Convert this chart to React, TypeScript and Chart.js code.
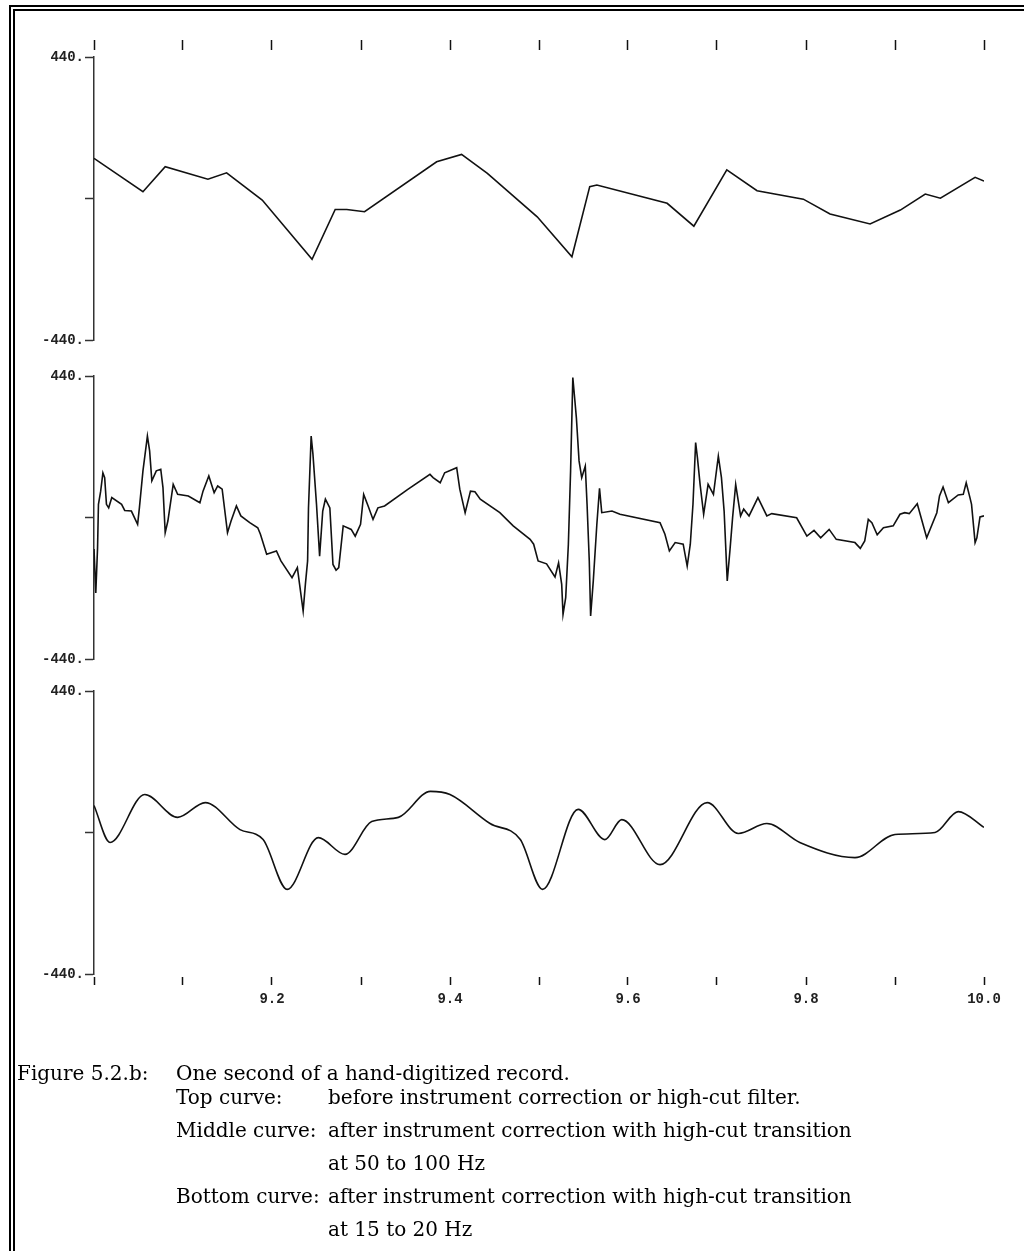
import React, { useEffect, useRef } from 'react';
import { Chart, registerables } from 'chart.js';

Chart.register(...registerables);

// ---------------- data ----------------
const X_TICKS = [9.0, 9.1, 9.2, 9.3, 9.4, 9.5, 9.6, 9.7, 9.8, 9.9, 10.0];
const X_TICK_LABELS = ['', '', '9.2', '', '9.4', '', '9.6', '', '9.8', '', '10.0'];
const Y_TICKS = [-440, 0, 440];
const Y_TICK_LABELS = ['-440.', '', '440.'];

// Top curve: before instrument correction / high-cut filter
const TOP_T = [9.0, 9.055, 9.08, 9.128, 9.149, 9.189, 9.245, 9.271, 9.284, 9.304, 9.385, 9.413, 9.442, 9.498, 9.537, 9.557, 9.565, 9.644, 9.674, 9.711, 9.745, 9.797, 9.827, 9.872, 9.906, 9.934, 9.951, 9.99, 10.0];
const TOP_V = [125, 21, 99, 60, 80, -5, -189, -34, -34, -41, 114, 137, 78, -57, -181, 37, 42, -15, -86, 89, 24, -2, -48, -79, -36, 14, 1, 66, 54];

// Middle curve: high-cut transition at 50 to 100 Hz
const MID_T = [
  9.0, 9.002, 9.004, 9.005, 9.0075, 9.01, 9.012, 9.014, 9.0165, 9.02, 9.031, 9.0345, 9.042, 9.049, 9.051,
  9.055, 9.06, 9.0625, 9.065, 9.07, 9.075, 9.0775, 9.08, 9.083, 9.089, 9.094, 9.106, 9.119, 9.1225, 9.129,
  9.135, 9.139, 9.144, 9.15, 9.154, 9.16, 9.165, 9.175, 9.184, 9.187, 9.194, 9.205, 9.21, 9.2225, 9.2285,
  9.231, 9.235, 9.2375, 9.24, 9.241, 9.244, 9.246, 9.25, 9.2535, 9.257, 9.26, 9.265, 9.2685, 9.272, 9.275,
  9.28, 9.289, 9.2935, 9.2995, 9.303, 9.308, 9.3135, 9.319, 9.3265, 9.353, 9.3775, 9.381, 9.389, 9.394,
  9.4075, 9.411, 9.417, 9.423, 9.428, 9.434, 9.456, 9.471, 9.49, 9.494, 9.499, 9.5085, 9.518, 9.522,
  9.5255, 9.527, 9.53, 9.533, 9.5355, 9.538, 9.54, 9.542, 9.545, 9.548, 9.552, 9.554, 9.5565, 9.558,
  9.561, 9.565, 9.568, 9.5705, 9.582, 9.591, 9.636, 9.6415, 9.6465, 9.653, 9.662, 9.6665, 9.67, 9.673,
  9.676, 9.678, 9.681, 9.685, 9.69, 9.696, 9.7015, 9.705, 9.708, 9.7115, 9.7145, 9.7175, 9.721, 9.7265,
  9.73, 9.736, 9.746, 9.756, 9.7615, 9.7895, 9.801, 9.809, 9.8165, 9.826, 9.834, 9.855, 9.861, 9.866,
  9.87, 9.874, 9.88, 9.887, 9.898, 9.9056, 9.911, 9.916, 9.925, 9.9356, 9.947, 9.95, 9.954, 9.96, 9.971,
  9.9767, 9.98, 9.984, 9.986, 9.99, 9.992, 9.9955, 10.0,
];
const MID_V = [
  -98, -235, -94, 41, 82, 139, 124, 41, 30, 62, 41, 22, 20, -21, 30,
  145, 253, 207, 114, 145, 150, 93, -47, -11, 103, 72, 67, 46, 82, 129,
  77, 98, 88, -47, -11, 36, 5, -16, -32, -52, -114, -104, -135, -187, -156,
  -208, -291, -208, -135, 30, 253, 197, 41, -120, 20, 57, 30, -146, -164, -156,
  -26, -37, -58, -21, 72, 36, -6, 30, 36, 88, 134, 124, 108, 139,
  155, 88, 15, 82, 80, 57, 15, -26, -68, -83, -135, -144, -185, -141,
  -208, -301, -249, -83, 145, 435, 373, 310, 176, 124, 160, 41, -135, -306,
  -197, -21, 91, 15, 20, 10, -16, -52, -104, -78, -83, -151, -83, 41,
  233, 186, 103, 10, 103, 72, 191, 124, 20, -197, -104, -1, 103, 5,
  26, 5, 62, 5, 12, -1, -58, -40, -63, -37, -68, -78, -96, -73,
  -6, -16, -54, -32, -26, 10, 15, 12, 43, -63, 15, 67, 95, 46, 70,
  72, 108, 64, 41, -78, -63, 2, 5,
];

// Bottom curve: high-cut transition at 15 to 20 Hz
const BOT_T = [9.0, 9.018, 9.057, 9.094, 9.125, 9.164, 9.19, 9.217, 9.252, 9.282, 9.312, 9.342, 9.378, 9.4, 9.445, 9.479, 9.504, 9.544, 9.574, 9.593, 9.636, 9.689, 9.724, 9.756, 9.793, 9.855, 9.9, 9.945, 9.971, 10.0];
const BOT_V = [84, -31, 118, 47, 93, 9, -22, -177, -16, -68, 34, 47, 128, 118, 28, -22, -177, 72, -22, 40, -100, 93, -3, 28, -31, -78, -6, 0, 65, 16];

const CAPTION_LABELS = ['Figure 5.2.b:', 'Top curve:', 'Middle curve:', '', 'Bottom curve:', ''];
const CAPTION_TEXTS = [
  'One second of a hand-digitized record.',
  'before instrument correction or high-cut filter.',
  'after instrument correction with high-cut transition',
  'at 50 to 100 Hz',
  'after instrument correction with high-cut transition',
  'at 15 to 20 Hz',
];

// ---------------- layout ----------------
const W = 1024;
const H = 1251;
const AREA_LEFT = 94;
const AREA_RIGHT = 984;
const AREA_H = 283;
const PANEL_TOPS = [57, 376, 691];
const CAPTION_BASELINES = [1080, 1104, 1137, 1170, 1203, 1236];
const CAPTION_LABEL_X = [17, 176, 176, 176, 176, 176];
const CAPTION_TEXT_X = [176, 328, 328, 328, 328, 328];
const CAPTION_FONT = 20;

const INK = '#111';
const AXIS = '#333';
const MONO = { family: '"Liberation Mono", "DejaVu Sans Mono", monospace', size: 14, weight: 'bold' as const };

type XMode = 'top' | 'bottom' | 'none';

function makeConfig(t: number[], v: number[], top: number, xMode: XMode, smooth: boolean): any {
  const bottom = top + AREA_H;
  const X_TOP_H = 17;
  const X_BOT_H = 34;
  const xH = xMode === 'top' ? X_TOP_H : xMode === 'bottom' ? X_BOT_H : 0;
  const padTop = xMode === 'top' ? top - xH : top;
  const padBottom = xMode === 'bottom' ? H - bottom - xH : H - bottom;

  return {
    type: 'line',
    data: {
      datasets: [
        {
          data: t.map((x, i) => ({ x, y: v[i] })),
          borderColor: INK,
          borderWidth: 1.6,
          pointRadius: 0,
          fill: false,
          tension: 0,
          cubicInterpolationMode: smooth ? 'monotone' : 'default',
        },
      ],
    },
    options: {
      animation: false,
      responsive: false,
      maintainAspectRatio: false,
      events: [],
      layout: { padding: { left: 0, right: W - AREA_RIGHT, top: padTop, bottom: padBottom } },
      plugins: { legend: { display: false }, tooltip: { enabled: false }, title: { display: false } },
      scales: {
        x: {
          type: 'linear',
          min: X_TICKS[0],
          max: X_TICKS[X_TICKS.length - 1],
          display: xMode !== 'none',
          position: xMode === 'bottom' ? 'bottom' : 'top',
          afterBuildTicks: (s: any) => {
            s.ticks = X_TICKS.map((value) => ({ value }));
          },
          afterFit: (s: any) => {
            s.height = xH;
          },
          border: { display: false },
          grid: {
            drawOnChartArea: false,
            drawTicks: true,
            tickLength: xMode === 'top' ? 17 : 11,
            tickColor: INK,
            tickWidth: 1.5,
            tickBorderDash: xMode === 'top' ? [10, 100] : [0, 3, 8, 100],
          },
          ticks: {
            display: xMode === 'bottom',
            autoSkip: false,
            maxRotation: 0,
            padding: 6,
            color: '#222',
            font: MONO,
            callback: (_v: any, i: number) => X_TICK_LABELS[i],
          },
        },
        y: {
          type: 'linear',
          min: Y_TICKS[0],
          max: Y_TICKS[Y_TICKS.length - 1],
          position: 'left',
          afterBuildTicks: (s: any) => {
            s.ticks = Y_TICKS.map((value) => ({ value }));
          },
          afterFit: (s: any) => {
            s.width = AREA_LEFT;
          },
          border: { display: true, color: AXIS, width: 1.5 },
          grid: {
            drawOnChartArea: false,
            drawTicks: true,
            tickLength: 9,
            tickColor: AXIS,
            tickWidth: 1.5,
          },
          ticks: {
            padding: 1,
            color: '#222',
            font: MONO,
            callback: (_v: any, i: number) => Y_TICK_LABELS[i],
          },
        },
      },
    },
  };
}

function Panel({ t, v, top, xMode, smooth }: { t: number[]; v: number[]; top: number; xMode: XMode; smooth: boolean }) {
  const ref = useRef<HTMLCanvasElement | null>(null);
  useEffect(() => {
    if (!ref.current) return;
    const chart = new Chart(ref.current, makeConfig(t, v, top, xMode, smooth));
    return () => chart.destroy();
  }, [t, v, top, xMode, smooth]);
  return (
    <canvas
      ref={ref}
      width={W}
      height={H}
      style={{ position: 'absolute', left: 0, top: 0, width: W, height: H }}
    />
  );
}

export default function App() {
  const serif = '"DejaVu Serif", "Liberation Serif", serif';
  const baselineOffset = Math.round(CAPTION_FONT * 0.846);
  return (
    <div style={{ position: 'fixed', left: 0, top: 0, width: W, height: H, overflow: 'hidden', background: '#fff' }}>
      <div
        style={{
          position: 'absolute',
          left: 9,
          top: 5,
          width: 3000,
          height: 3000,
          borderLeft: '6px double #000',
          borderTop: '6px double #000',
        }}
      />
      <Panel t={TOP_T} v={TOP_V} top={PANEL_TOPS[0]} xMode="top" smooth={false} />
      <Panel t={MID_T} v={MID_V} top={PANEL_TOPS[1]} xMode="none" smooth={false} />
      <Panel t={BOT_T} v={BOT_V} top={PANEL_TOPS[2]} xMode="bottom" smooth={true} />
      {CAPTION_TEXTS.map((txt, i) => (
        <React.Fragment key={i}>
          {CAPTION_LABELS[i] ? (
            <div
              style={{
                position: 'absolute',
                left: CAPTION_LABEL_X[i],
                top: CAPTION_BASELINES[i] - baselineOffset,
                fontFamily: serif,
                fontSize: CAPTION_FONT,
                lineHeight: 1,
                whiteSpace: 'nowrap',
                color: '#000',
              }}
            >
              {CAPTION_LABELS[i]}
            </div>
          ) : null}
          <div
            style={{
              position: 'absolute',
              left: CAPTION_TEXT_X[i],
              top: CAPTION_BASELINES[i] - baselineOffset,
              fontFamily: serif,
              fontSize: CAPTION_FONT,
              lineHeight: 1,
              whiteSpace: 'nowrap',
              color: '#000',
            }}
          >
            {txt}
          </div>
        </React.Fragment>
      ))}
    </div>
  );
}
